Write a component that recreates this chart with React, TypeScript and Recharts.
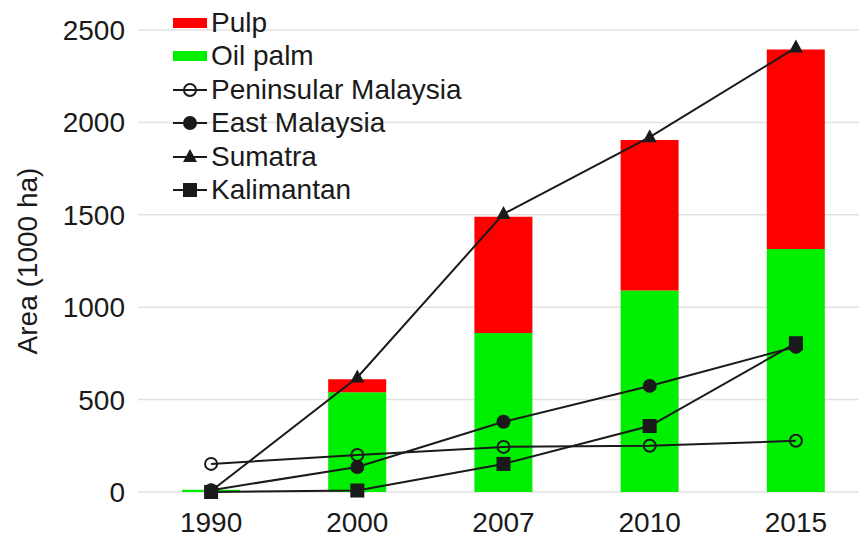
import {
    ComposedChart,
    Bar,
    Line,
    XAxis,
    YAxis,
    CartesianGrid,
    Legend,
} from "recharts";

const years = ["1990", "2000", "2007", "2010", "2015"];
const oilPalm = [12, 540, 860, 1090, 1315];
const pulp = [0, 70, 630, 815, 1080];
const peninsular = [152, 200, 244, 250, 277];
const eastMalaysia = [10, 135, 380, 574, 786];
const sumatra = [5, 620, 1505, 1920, 2405];
const kalimantan = [0, 8, 152, 357, 805];
const yTicks = [0, 500, 1000, 1500, 2000, 2500];

const data = years.map((year, i) => ({
    year,
    oilPalm: oilPalm[i],
    pulp: pulp[i],
    peninsular: peninsular[i],
    eastMalaysia: eastMalaysia[i],
    sumatra: sumatra[i],
    kalimantan: kalimantan[i],
}));

const FONT = "'Liberation Sans', Arial, sans-serif";
const INK = "#1a1a1a";

type Shape = "open" | "circle" | "triangle" | "square";

const Marker = ({ cx, cy, shape }: { cx: number; cy: number; shape: Shape }) => {
    if (cx == null || cy == null) return null;
    if (shape === "open")
        return <circle cx={cx} cy={cy} r={6} fill="none" stroke={INK} strokeWidth={2} />;
    if (shape === "circle") return <circle cx={cx} cy={cy} r={7} fill={INK} />;
    if (shape === "square")
        return <rect x={cx - 7} y={cy - 7} width={14} height={14} fill={INK} />;
    return (
        <polygon
            points={`${cx},${cy - 8} ${cx + 7},${cy + 5} ${cx - 7},${cy + 5}`}
            fill={INK}
        />
    );
};

const dotFor = (shape: Shape) => (props: any) =>
    <Marker key={`${shape}-${props.index}`} cx={props.cx} cy={props.cy} shape={shape} />;

const legendItems: { label: string; kind: "bar" | Shape; color?: string }[] = [
    { label: "Pulp", kind: "bar", color: "#ff0000" },
    { label: "Oil palm", kind: "bar", color: "#00ee00" },
    { label: "Peninsular Malaysia", kind: "open" },
    { label: "East Malaysia", kind: "circle" },
    { label: "Sumatra", kind: "triangle" },
    { label: "Kalimantan", kind: "square" },
];

const renderLegend = () => (
    <div style={{ fontFamily: FONT, fontSize: 28, color: INK }}>
        {legendItems.map((item) => (
            <div
                key={item.label}
                style={{ display: "flex", alignItems: "center", height: 33.5, whiteSpace: "nowrap" }}
            >
                <svg width={36} height={20} style={{ marginRight: 2 }}>
                    {item.kind === "bar" ? (
                        <rect x={0} y={5} width={34} height={10} fill={item.color} />
                    ) : (
                        <>
                            <line x1={0} y1={10} x2={34} y2={10} stroke={INK} strokeWidth={2} />
                            <Marker cx={17} cy={10} shape={item.kind} />
                        </>
                    )}
                </svg>
                <span style={{ lineHeight: "33.5px", marginTop: -1 }}>{item.label}</span>
            </div>
        ))}
    </div>
);

const YLabel = ({ viewBox }: any) => {
    const y = viewBox.y + viewBox.height / 2;
    return (
        <text
            x={37}
            y={y}
            transform={`rotate(-90, 37, ${y})`}
            textAnchor="middle"
            fontFamily={FONT}
            fontSize={28}
            fill={INK}
        >
            Area (1000 ha)
        </text>
    );
};

const App = () => {
    return (
        <div
            style={{
                position: "absolute",
                left: 0,
                top: 0,
                width: 859,
                height: 539,
                overflow: "hidden",
                background: "#fff",
            }}
        >
            <ComposedChart
                width={880}
                height={539}
                data={data}
                margin={{ top: 30, right: 11, bottom: 0, left: 0 }}
                barCategoryGap="20%"
            >
                <CartesianGrid vertical={false} stroke="#e2e2e2" strokeWidth={1.5} />
                <XAxis
                    dataKey="year"
                    height={47}
                    axisLine={false}
                    tickLine={false}
                    tickSize={0}
                    tickMargin={20}
                    tick={{ fontFamily: FONT, fontSize: 28, fill: INK }}
                />
                <YAxis
                    width={138}
                    domain={[0, 2500]}
                    ticks={yTicks}
                    axisLine={false}
                    tickLine={false}
                    tickSize={0}
                    tickMargin={13}
                    tick={{ fontFamily: FONT, fontSize: 28, fill: INK }}
                    label={<YLabel />}
                />
                <Legend
                    layout="vertical"
                    align="center"
                    verticalAlign="middle"
                    content={renderLegend}
                    wrapperStyle={{ left: 173, top: 6, width: 320, height: 205 }}
                />
                <Bar dataKey="oilPalm" stackId="a" fill="#00ee00" barSize={58} isAnimationActive={false} />
                <Bar dataKey="pulp" stackId="a" fill="#ff0000" barSize={58} isAnimationActive={false} />
                <Line dataKey="peninsular" stroke={INK} strokeWidth={2} dot={dotFor("open")} activeDot={false} isAnimationActive={false} />
                <Line dataKey="eastMalaysia" stroke={INK} strokeWidth={2} dot={dotFor("circle")} activeDot={false} isAnimationActive={false} />
                <Line dataKey="sumatra" stroke={INK} strokeWidth={2} dot={dotFor("triangle")} activeDot={false} isAnimationActive={false} />
                <Line dataKey="kalimantan" stroke={INK} strokeWidth={2} dot={dotFor("square")} activeDot={false} isAnimationActive={false} />
            </ComposedChart>
        </div>
    );
};

export default App;
